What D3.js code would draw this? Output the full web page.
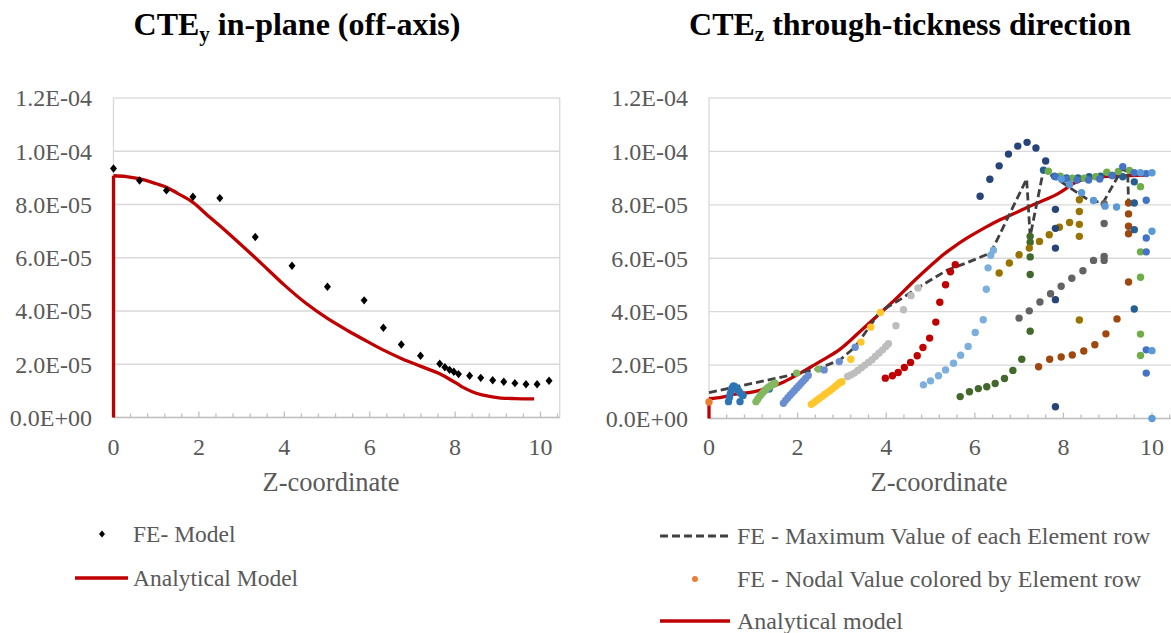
<!DOCTYPE html>
<html>
<head>
<meta charset="utf-8">
<script src="https://cdn.jsdelivr.net/npm/d3@7"></script>
<style>
body{margin:0;background:#fff}
svg{display:block}
</style>
</head>
<body>
<svg id="chart" width="1171" height="633"></svg>
<script>
// values in units of 1E-05
var UNIT = 1e-5;
var yTicks = [0, 2, 4, 6, 8, 10, 12];
var xTicks = [0, 2, 4, 6, 8, 10];

// left panel: CTEy
var feModelX = [0, 0.61, 1.24, 1.86, 2.49, 3.32, 4.18, 5.01, 5.87, 6.32, 6.74, 7.19, 7.64, 7.76, 7.87, 7.97, 8.08, 8.34, 8.60, 8.88, 9.14, 9.40, 9.66, 9.92, 10.20];
var feModelY = [9.35, 8.90, 8.53, 8.29, 8.24, 6.78, 5.70, 4.91, 4.40, 3.37, 2.74, 2.32, 2.02, 1.89, 1.79, 1.72, 1.63, 1.57, 1.49, 1.40, 1.34, 1.29, 1.25, 1.25, 1.38];
var anaLeftX = [0, 0, 0.3, 0.6, 1.0, 1.24, 1.5, 1.86, 2.2, 2.49, 2.8, 3.0, 3.32, 3.6, 3.99, 4.5, 5.01, 5.5, 5.87, 6.3, 6.74, 7.2, 7.64, 7.89, 8.05, 8.2, 8.4, 8.63, 8.85, 9.07, 9.4, 9.85];
var anaLeftY = [0, 9.08, 9.05, 8.97, 8.78, 8.65, 8.42, 8.08, 7.6, 7.2, 6.76, 6.47, 6.0, 5.58, 4.99, 4.3, 3.72, 3.25, 2.92, 2.55, 2.22, 1.92, 1.64, 1.42, 1.27, 1.12, 0.97, 0.85, 0.78, 0.73, 0.71, 0.70];

// right panel: CTEz
var anaRightX = [0, 0, 0.3, 0.55, 1.0, 1.3, 1.7, 2.05, 2.3, 2.6, 2.96, 3.41, 3.9, 4.2, 4.61, 5.07, 5.3, 5.52, 5.82, 6.2, 6.57, 7.0, 7.36, 7.6, 7.87, 8.05, 8.2, 8.45, 8.7, 9.1, 9.5, 9.85];
var anaRightY = [0, 0.74, 0.8, 0.9, 1.0, 1.13, 1.38, 1.69, 1.93, 2.22, 2.6, 3.26, 4.0, 4.45, 5.12, 5.82, 6.15, 6.42, 6.75, 7.12, 7.44, 7.76, 8.03, 8.2, 8.41, 8.6, 8.78, 8.95, 9.03, 9.07, 9.09, 9.11];
var maxX = [0, 0.55, 1.0, 1.5, 1.98, 2.46, 2.96, 3.3, 3.86, 4.31, 4.72, 5.37, 5.82, 6.36, 7.17, 7.25, 7.55, 8.6, 8.9, 9.32, 9.45, 9.47];
var maxY = [0.97, 1.17, 1.32, 1.5, 1.68, 1.86, 2.2, 2.68, 4.0, 4.45, 4.9, 5.55, 5.83, 6.2, 8.97, 6.82, 9.3, 8.14, 8.09, 9.33, 9.25, 8.1];

// nodal values, one list per element row
var nodalX = [
  [0],
  [0.44, 0.46, 0.48, 0.5, 0.52, 0.55, 0.58, 0.61, 0.64, 0.67, 0.7, 0.74, 0.77, 0.70, 1.36],
  [1.06, 1.1, 1.14, 1.18, 1.22, 1.26, 1.3, 1.35, 1.4, 1.45, 1.49, 1.98, 2.47],
  [1.68, 1.73, 1.78, 1.83, 1.88, 1.93, 1.98, 2.03, 2.08, 2.13, 2.18, 2.24, 2.6, 2.94, 3.3],
  [2.31, 2.37, 2.43, 2.49, 2.55, 2.61, 2.67, 2.73, 2.79, 2.85, 2.91, 2.96, 3.0, 3.2, 3.43, 3.65, 3.87],
  [3.13, 3.2, 3.28, 3.36, 3.44, 3.52, 3.6, 3.68, 3.76, 3.84, 3.92, 3.99, 4.05, 4.22, 4.39, 4.56, 4.72],
  [3.98, 4.14, 4.27, 4.41, 4.55, 4.7, 4.83, 4.98, 5.12, 5.21, 5.34, 5.45, 5.56],
  [4.84, 5.0, 5.18, 5.34, 5.52, 5.68, 5.85, 6.01, 6.19, 6.26, 6.3, 6.36, 6.42],
  [5.67, 5.88, 6.08, 6.27, 6.46, 6.67, 6.86, 7.06, 7.25, 7.25, 7.25, 7.25, 7.25],
  [6.55, 6.78, 7.0, 7.23, 7.46, 7.68, 7.91, 8.14, 8.36, 8.36, 8.36, 8.36, 8.36],
  [7.0, 7.23, 7.47, 7.71, 7.95, 8.19, 8.44, 8.68, 8.92, 8.92, 8.92, 8.92],
  [7.44, 7.69, 7.95, 8.2, 8.46, 8.71, 8.96, 9.21, 9.47, 9.47, 9.47, 9.47, 9.47],
  [6.12, 6.34, 6.55, 6.76, 6.97, 7.18, 7.38, 7.6, 7.82, 7.82, 7.82, 7.82, 7.82],
  [7.55, 7.8, 8.07, 8.33, 8.58, 8.84, 9.1, 9.34, 9.6, 9.6, 9.6, 9.6],
  [7.66, 7.93, 8.2, 8.47, 8.73, 8.98, 9.24, 9.49, 9.74, 9.74, 9.74, 9.74, 9.74],
  [7.82, 8.07, 8.31, 8.57, 8.82, 9.1, 9.34, 9.6, 9.87, 9.87, 9.87, 9.87, 9.87, 9.87],
  [7.95, 8.14, 8.41, 8.68, 8.94, 9.2, 9.74, 10.0, 10.0, 10.0, 10.0]
];
var nodalY = [
  [0.62],
  [0.63, 0.78, 0.92, 1.04, 1.14, 1.22, 1.2, 1.15, 1.1, 1.03, 0.96, 0.9, 0.86, 0.63, 1.10],
  [0.63, 0.72, 0.82, 0.9, 0.98, 1.05, 1.12, 1.18, 1.24, 1.28, 1.32, 1.70, 1.85],
  [0.57, 0.68, 0.78, 0.87, 0.96, 1.05, 1.14, 1.23, 1.32, 1.41, 1.5, 1.61, 1.82, 2.13, 2.67],
  [0.53, 0.6, 0.68, 0.75, 0.82, 0.9, 0.97, 1.04, 1.12, 1.2, 1.28, 1.35, 1.38, 2.22, 2.86, 3.42, 3.97],
  [1.57, 1.63, 1.7, 1.8, 1.9, 2.0, 2.1, 2.2, 2.33, 2.45, 2.57, 2.7, 2.80, 3.47, 4.07, 4.6, 4.89],
  [1.51, 1.6, 1.72, 1.91, 2.1, 2.35, 2.66, 3.01, 3.61, 4.35, 5.01, 5.49, 5.76],
  [1.26, 1.41, 1.6, 1.82, 2.07, 2.37, 2.70, 3.22, 3.70, 4.84, 5.64, 6.11, 6.30],
  [0.82, 1.0, 1.12, 1.19, 1.31, 1.5, 1.8, 2.22, 3.27, 5.39, 6.05, 6.6, 6.82],
  [5.45, 5.82, 6.13, 6.38, 6.63, 6.88, 7.16, 7.34, 8.19, 7.75, 7.27, 6.82, 3.69],
  [3.76, 4.03, 4.36, 4.67, 4.95, 5.25, 5.53, 5.92, 5.92, 6.07, 7.3, 8.04],
  [1.94, 2.22, 2.30, 2.38, 2.53, 2.76, 3.17, 3.73, 5.11, 6.92, 7.2, 7.66, 8.07],
  [8.32, 8.96, 9.46, 9.9, 10.2, 10.34, 10.13, 9.64, 7.83, 7.12, 6.38, 4.45, 0.44],
  [9.3, 9.07, 9.01, 9.01, 9.05, 9.07, 9.1, 9.05, 8.86, 8.07, 7.07, 4.1],
  [9.26, 9.07, 9.0, 9.0, 9.05, 9.22, 9.25, 9.29, 8.68, 6.24, 5.29, 3.16, 2.36],
  [9.05, 8.97, 8.93, 8.93, 8.97, 9.1, 9.43, 9.2, 9.17, 8.17, 6.76, 6.24, 2.57, 1.7],
  [8.97, 8.76, 8.45, 8.16, 7.95, 7.92, 9.2, 9.2, 7.01, 2.54, 0.0]
];
var rowColors = ["#ED7D31", "#2E75B6", "#82B860", "#6A8FD1", "#FFC72C", "#BDBDBD", "#C00000", "#7CAFDD",
  "#43682B", "#997300", "#636363", "#9E480E", "#264478", "#255E91", "#70AD47", "#4472C4", "#5B9BD5"];

var svg = d3.select("#chart");
var TXT = "#595959";
var FONT = "Liberation Serif";

function label(str, x, y, size) {
    return svg.append("text").text(str)
        .attr("x", x).attr("y", y)
        .attr("fill", TXT).attr("font-size", size)
        .style("font-family", FONT);
}

function fmtE(v) {
    v = v * UNIT;
    if (v == 0) return "0.0E+00";
    var e = Math.floor(Math.log10(v) + 1e-9);
    var m = v / Math.pow(10, e);
    return m.toFixed(1) + "E" + (e < 0 ? "-" : "+") + ("0" + Math.abs(e)).slice(-2);
}

function frame(x, y, labelRight, zLabelX) {
    var xl = x(0), xr = x(10.45);
    svg.append("rect")
        .attr("x", xl).attr("y", y(12))
        .attr("width", xr - xl).attr("height", y(0) - y(12))
        .attr("fill", "none").attr("stroke", "#D9D9D9").attr("stroke-width", 1.3);
    yTicks.forEach(function (t) {
        if (t > 0 && t < 12) {
            svg.append("line")
                .attr("x1", xl).attr("x2", xr).attr("y1", y(t)).attr("y2", y(t))
                .attr("stroke", "#D9D9D9").attr("stroke-width", 1.3);
        }
        label(fmtE(t), labelRight, y(t), 24).attr("dy", "0.35em").attr("text-anchor", "end");
    });
    svg.append("line")
        .attr("x1", xl).attr("x2", xr).attr("y1", y(0)).attr("y2", y(0))
        .attr("stroke", "#BFBFBF").attr("stroke-width", 1.5);
    for (var i = 0; i <= 26; i++) {
        var tx = x(i * 0.4);
        svg.append("line")
            .attr("x1", tx).attr("x2", tx).attr("y1", y(0)).attr("y2", y(0) - (i % 5 == 0 ? 6 : 4))
            .attr("stroke", "#BFBFBF").attr("stroke-width", 1.3);
    }
    xTicks.forEach(function (t) {
        label(t, x(t), 455, 24).attr("text-anchor", "middle");
    });
    label("Z-coordinate", zLabelX, 491, 26.5).attr("text-anchor", "middle");
}

function title(cx, main, sub, rest) {
    var t = svg.append("text").attr("x", cx).attr("y", 35)
        .attr("text-anchor", "middle").attr("font-weight", "bold").attr("font-size", 32).attr("fill", "#000")
        .style("font-family", FONT);
    t.append("tspan").text(main);
    t.append("tspan").text(sub).attr("font-size", 21).attr("dy", 6);
    t.append("tspan").text(rest).attr("dy", -6);
}

function pairs(xs, ys) {
    return xs.map(function (d, i) { return [d, ys[i]]; });
}

// analytical curve: vertical start at z=0, then a smooth curve
function redCurve(x, y, xs, ys) {
    var pts = pairs(xs, ys);
    var straight = d3.line().x(function (d) { return x(d[0]); }).y(function (d) { return y(d[1]); });
    var smooth = d3.line().x(function (d) { return x(d[0]); }).y(function (d) { return y(d[1]); })
        .curve(d3.curveMonotoneX);
    svg.append("path").attr("d", straight(pts.slice(0, 2)))
        .attr("fill", "none").attr("stroke", "#C00000").attr("stroke-width", 3.3);
    svg.append("path").attr("d", smooth(pts.slice(1)))
        .attr("fill", "none").attr("stroke", "#C00000").attr("stroke-width", 3.3)
        .attr("stroke-linejoin", "round");
}

// ---- left panel
var xL = d3.scaleLinear().domain([0, 10]).range([113.5, 540.5]);
var yL = d3.scaleLinear().domain([0, 12]).range([417.5, 98]);
title(297, "CTE", "y", " in-plane (off-axis)");
frame(xL, yL, 92, 331);

redCurve(xL, yL, anaLeftX, anaLeftY);

var diamond = "M0,-4.2L3.5,0L0,4.2L-3.5,0Z";
svg.selectAll(".fe").data(pairs(feModelX, feModelY)).enter().append("path")
    .attr("class", "fe").attr("d", diamond)
    .attr("transform", function (d) { return "translate(" + xL(d[0]) + "," + yL(d[1]) + ")"; })
    .attr("fill", "#000");

// left legend
svg.append("path").attr("d", "M0,-3.5L3,0L0,3.5L-3,0Z").attr("transform", "translate(102,534)").attr("fill", "#000");
label("FE- Model", 133, 542, 23.5);
svg.append("line").attr("x1", 75).attr("x2", 128).attr("y1", 578).attr("y2", 578)
    .attr("stroke", "#C00000").attr("stroke-width", 3.5);
label("Analytical Model", 133, 586, 23.5);

// ---- right panel
var xR = d3.scaleLinear().domain([0, 10]).range([709, 1152]);
var yR = d3.scaleLinear().domain([0, 12]).range([418.5, 98]);
title(910, "CTE", "z", " through-tickness direction");
frame(xR, yR, 688, 939);

redCurve(xR, yR, anaRightX, anaRightY);

var lineR = d3.line().x(function (d) { return xR(d[0]); }).y(function (d) { return yR(d[1]); });
svg.append("path").datum(pairs(maxX, maxY))
    .attr("d", lineR).attr("fill", "none").attr("stroke", "#404040").attr("stroke-width", 2.8)
    .attr("stroke-dasharray", "8,4");

nodalX.forEach(function (xs, r) {
    svg.selectAll(".row" + r).data(pairs(xs, nodalY[r])).enter().append("circle")
        .attr("class", "row" + r)
        .attr("cx", function (d) { return xR(d[0]); })
        .attr("cy", function (d) { return yR(d[1]); })
        .attr("r", 3.7)
        .attr("fill", rowColors[r]);
});

// right legend
svg.append("line").attr("x1", 660).attr("x2", 730).attr("y1", 536).attr("y2", 536)
    .attr("stroke", "#404040").attr("stroke-width", 2.8).attr("stroke-dasharray", "8,4");
label("FE - Maximum Value of each Element row", 737, 544, 24);
svg.append("circle").attr("cx", 695).attr("cy", 579).attr("r", 3).attr("fill", "#ED7D31");
label("FE - Nodal Value colored by Element row", 737, 587, 24);
svg.append("line").attr("x1", 660).attr("x2", 730).attr("y1", 621).attr("y2", 621)
    .attr("stroke", "#C00000").attr("stroke-width", 3.5);
label("Analytical model", 737, 629, 24);
</script>
</body>
</html>
